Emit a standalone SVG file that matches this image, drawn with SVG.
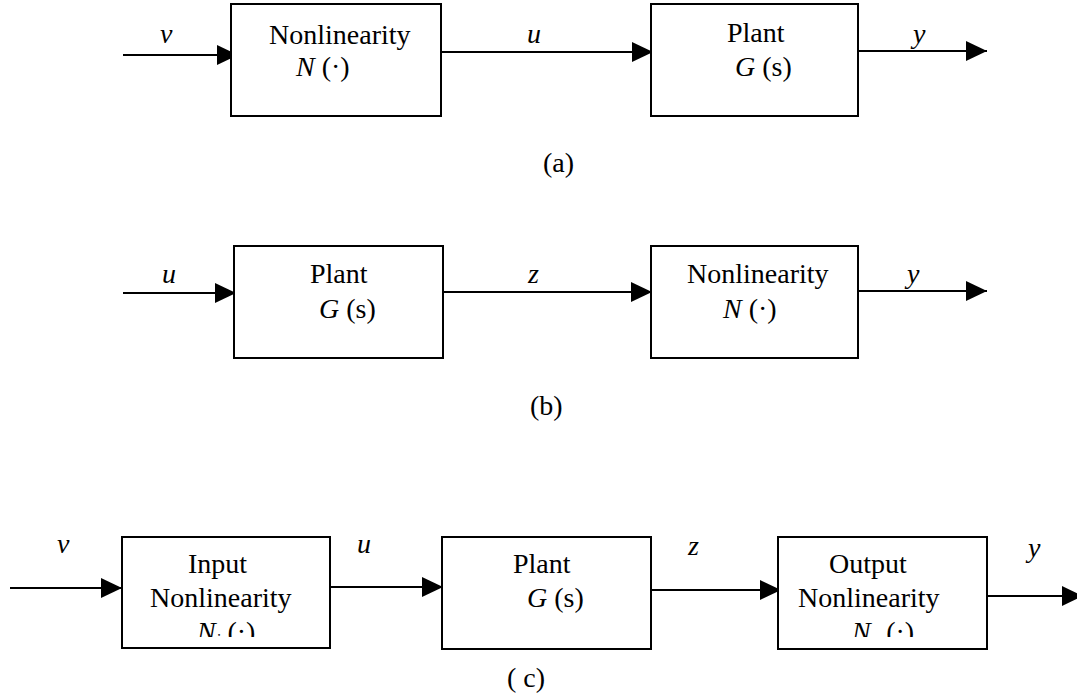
<svg xmlns="http://www.w3.org/2000/svg" width="1077" height="696" viewBox="0 0 1077 696">
  <style>
    .box { fill: #ffffff; stroke: #000000; stroke-width: 2; }
    .wire { fill: none; stroke: #000000; stroke-width: 2; marker-end: url(#arrow); }
    text { font-family: "Liberation Serif", "Times New Roman", serif; font-size: 28px; fill: #000000; }
    .it { font-style: italic; }
    .sub { font-size: 17px; font-style: italic; }
  </style>
  <defs>
    <marker id="arrow" markerUnits="userSpaceOnUse" markerWidth="22" markerHeight="22" viewBox="0 0 22 22" refX="21" refY="11" orient="auto">
      <path d="M0,1 L21,11 L0,21 Z" fill="#000000"/>
    </marker>
    <clipPath id="clip-ni"><rect x="122" y="537" width="208" height="100"/></clipPath>
    <clipPath id="clip-no"><rect x="778" y="537" width="209" height="100"/></clipPath>
  </defs>

  <!-- connectors -->
  <g id="connectors">
    <!-- (a) -->
    <line class="wire" x1="123" y1="55" x2="238" y2="55"/>
    <line class="wire" x1="442" y1="52" x2="653" y2="52"/>
    <line class="wire" x1="858" y1="51" x2="987" y2="51"/>
    <!-- (b) -->
    <line class="wire" x1="123" y1="293" x2="236" y2="293"/>
    <line class="wire" x1="443" y1="292" x2="652" y2="292"/>
    <line class="wire" x1="858" y1="291" x2="987" y2="291"/>
    <!-- (c) -->
    <line class="wire" x1="10" y1="588" x2="122" y2="588"/>
    <line class="wire" x1="329" y1="587" x2="443" y2="587"/>
    <line class="wire" x1="651" y1="590" x2="781" y2="590"/>
    <line class="wire" x1="987" y1="596" x2="1083" y2="596"/>
  </g>

  <!-- signal labels -->
  <g id="signals">
    <text class="it" x="160" y="43">v</text>
    <text class="it" x="527" y="43">u</text>
    <text class="it" x="913" y="43">y</text>
    <text class="it" x="162" y="283">u</text>
    <text class="it" x="528" y="283">z</text>
    <text class="it" x="907" y="283">y</text>
    <text class="it" x="57" y="553">v</text>
    <text class="it" x="357" y="553">u</text>
    <text class="it" x="688" y="555">z</text>
    <text class="it" x="1028" y="557">y</text>
  </g>

  <!-- (a) nonlinearity then plant -->
  <g id="a-nonlinearity">
    <rect class="box" x="231" y="4" width="210" height="112"/>
    <text x="269" y="44">Nonlinearity</text>
    <text x="296" y="76"><tspan class="it">N</tspan> (·)</text>
  </g>
  <g id="a-plant">
    <rect class="box" x="651" y="4" width="207" height="112"/>
    <text x="727" y="42">Plant</text>
    <text x="735" y="76"><tspan class="it">G</tspan> (s)</text>
  </g>
  <text x="543" y="172">(a)</text>

  <!-- (b) plant then nonlinearity -->
  <g id="b-plant">
    <rect class="box" x="234" y="246" width="209" height="112"/>
    <text x="310" y="283">Plant</text>
    <text x="319" y="318"><tspan class="it">G</tspan> (s)</text>
  </g>
  <g id="b-nonlinearity">
    <rect class="box" x="651" y="246" width="207" height="112"/>
    <text x="687" y="283">Nonlinearity</text>
    <text x="723" y="318"><tspan class="it">N</tspan> (·)</text>
  </g>
  <text x="530" y="415">(b)</text>

  <!-- (c) input nonlinearity, plant, output nonlinearity -->
  <g id="c-input-nonlinearity">
    <rect class="box" x="122" y="537" width="208" height="111"/>
    <text x="188" y="573">Input</text>
    <text x="150" y="607">Nonlinearity</text>
    <text x="197" y="641" clip-path="url(#clip-ni)"><tspan class="it">N</tspan><tspan class="sub" dy="4">i</tspan><tspan dy="-4"> (·)</tspan></text>
  </g>
  <g id="c-plant">
    <rect class="box" x="442" y="537" width="209" height="112"/>
    <text x="513" y="573">Plant</text>
    <text x="527" y="607"><tspan class="it">G</tspan> (s)</text>
  </g>
  <g id="c-output-nonlinearity">
    <rect class="box" x="778" y="537" width="209" height="112"/>
    <text x="829" y="573">Output</text>
    <text x="798" y="607">Nonlinearity</text>
    <text x="852" y="641" clip-path="url(#clip-no)"><tspan class="it">N</tspan><tspan class="sub" dy="4">o</tspan><tspan dy="-4"> (·)</tspan></text>
  </g>
  <text x="507" y="687">( c)</text>
</svg>
